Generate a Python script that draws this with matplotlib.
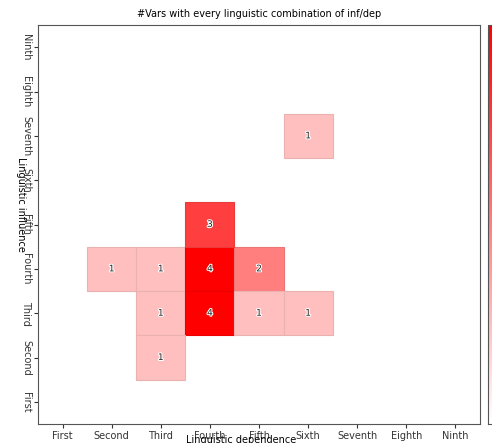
import matplotlib.pyplot as plt
import matplotlib.patheffects as pe
from matplotlib.colors import LinearSegmentedColormap, Normalize
from matplotlib.patches import Rectangle
import numpy as np

ordinals = ["First", "Second", "Third", "Fourth", "Fifth", "Sixth", "Seventh", "Eighth", "Ninth"]

# (dependence, influence, count)
dep = ["Second", "Third", "Fourth", "Fifth", "Fourth", "Third", "Fourth", "Fifth", "Sixth", "Third", "Sixth"]
inf = ["Fourth", "Fourth", "Fourth", "Fourth", "Fifth", "Third", "Third", "Third", "Third", "Second", "Seventh"]
counts = [1, 1, 4, 2, 3, 1, 4, 1, 1, 1, 1]

cmap = LinearSegmentedColormap.from_list("wr", ["#ffffff", "#ff0000"])
norm = Normalize(vmin=0, vmax=max(counts))

plt.rcParams['font.size'] = 7

fig = plt.figure(figsize=(4.92, 4.43), dpi=100)
ax = fig.add_axes([38/492, 19/443, 442/492, 399/443])

for d, i, c in zip(dep, inf, counts):
    x = ordinals.index(d)
    y = ordinals.index(i)
    col = cmap(norm(c))
    edge = tuple(v * 0.92 for v in col[:3])
    ax.add_patch(Rectangle((x - 0.5, y - 0.5), 1, 1, facecolor=col, edgecolor=edge,
                           linewidth=0.8))
    ax.text(x, y, str(c), ha="center", va="center", fontsize=6.5, color="#222222",
            path_effects=[pe.withStroke(linewidth=1.5, foreground="white")])

ax.set_xlim(-0.5, 8.5)
ax.set_ylim(-0.5, 8.5)
ax.set_xticks(range(9))
ax.set_xticklabels(ordinals)
ax.set_yticks(range(9))
ax.set_yticklabels(ordinals, rotation=270, va="center")
ax.tick_params(length=3, pad=2, colors="#333333")
for s in ax.spines.values():
    s.set_color("#555555")
ax.set_title("#Vars with every linguistic combination of inf/dep", fontsize=7, pad=6)
ax.set_xlabel("Linguistic dependence")
ax.set_ylabel("Linguistic influence", rotation=270)
ax.xaxis.set_label_coords(0.46, -0.028)
ax.yaxis.set_label_coords(-0.05, 0.55)

cax = fig.add_axes([488/492, 19/443, 0.05, 399/443])
cb = fig.colorbar(plt.cm.ScalarMappable(norm=norm, cmap=cmap), cax=cax)
cb.outline.set_edgecolor("#555555")
cb.set_ticks([])

fig.savefig("out.png", dpi=100)
